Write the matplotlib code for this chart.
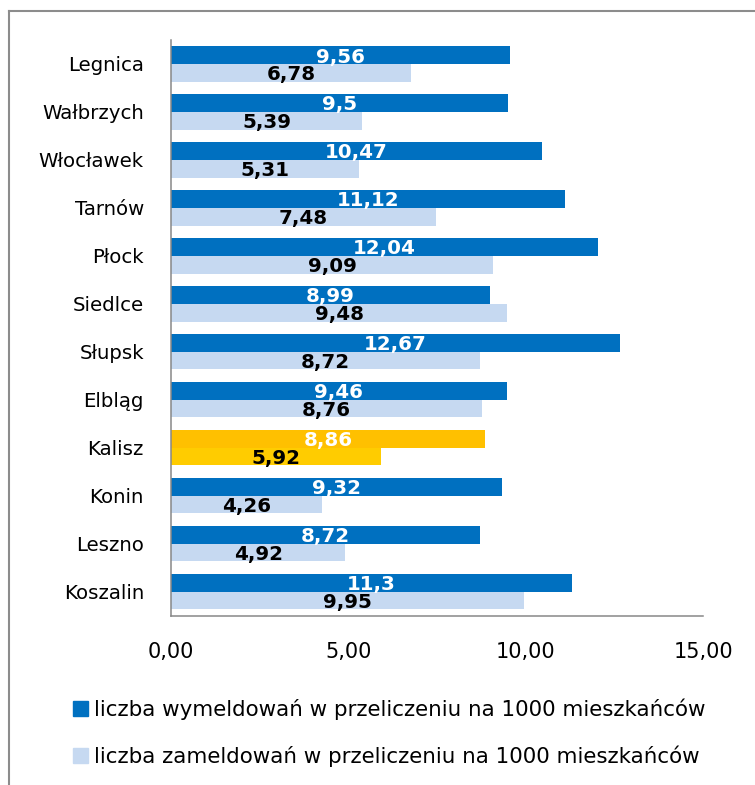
import matplotlib
matplotlib.use('Agg')
import matplotlib.pyplot as plt
from matplotlib.lines import Line2D
import numpy as np

cities = ['Legnica', 'Wałbrzych', 'Włocławek', 'Tarnów', 'Płock', 'Siedlce',
          'Słupsk', 'Elbląg', 'Kalisz', 'Konin', 'Leszno', 'Koszalin']
wymeldowania = [9.56, 9.5, 10.47, 11.12, 12.04, 8.99, 12.67, 9.46, 8.86, 9.32, 8.72, 11.3]
zameldowania = [6.78, 5.39, 5.31, 7.48, 9.09, 9.48, 8.72, 8.76, 5.92, 4.26, 4.92, 9.95]
highlight = 'Kalisz'
x_ticks = [0, 5, 10, 15]
legend_labels = ['liczba wymeldowań w przeliczeniu na 1000 mieszkańców',
                 'liczba zameldowań w przeliczeniu na 1000 mieszkańców']

DARK = '#0070C0'
LIGHT = '#C6D9F1'
HL_DARK = '#FFC000'
HL_LIGHT = '#FFCC00'
GREY = '#878787'


def fmt(v):
    return ('%g' % v).replace('.', ',')


fig = plt.figure(figsize=(7.55, 7.85), dpi=100)
ax = fig.add_axes([171 / 755, 1 - 615.5 / 785, 532 / 755, 575.5 / 785])

y = np.arange(len(cities))
h = 0.37
dark_colors = [HL_DARK if c == highlight else DARK for c in cities]
light_colors = [HL_LIGHT if c == highlight else LIGHT for c in cities]

bars1 = ax.barh(y - h / 2, wymeldowania, height=h, color=dark_colors,
                label=legend_labels[0])
bars2 = ax.barh(y + h / 2, zameldowania, height=h, color=light_colors,
                label=legend_labels[1])

for i in range(len(cities)):
    ax.text(wymeldowania[i] / 2, y[i] - h / 2 + 0.04, fmt(wymeldowania[i]),
            ha='center', va='center', color='white', fontsize=14.3,
            fontweight='bold')
    ax.text(zameldowania[i] / 2, y[i] + h / 2 + 0.04, fmt(zameldowania[i]),
            ha='center', va='center', color='black', fontsize=14.3,
            fontweight='bold')

ax.set_xlim(0, 15)
ax.set_ylim(len(cities) - 0.5, -0.5)
ax.set_yticks(y)
ax.set_yticklabels(cities, fontsize=14.2)
ax.set_xticks(x_ticks)
ax.set_xticklabels(['%d,00' % t for t in x_ticks], fontsize=15)
ax.tick_params(axis='y', length=0, pad=19.5)
ax.tick_params(axis='x', length=0, pad=19)

for s in ['top', 'right']:
    ax.spines[s].set_visible(False)
for s in ['left', 'bottom']:
    ax.spines[s].set_color(GREY)
    ax.spines[s].set_linewidth(1.1)

# legend below the axis
handles = [plt.Rectangle((0, 0), 1, 1, color=DARK),
           plt.Rectangle((0, 0), 1, 1, color=LIGHT)]
fig.legend(handles, legend_labels, loc='upper left',
           bbox_to_anchor=(73 / 755, 1 - 698 / 785), frameon=False,
           fontsize=15.4, handlelength=0.7, handleheight=0.7,
           handletextpad=0.28, labelspacing=1.22, borderpad=0,
           borderaxespad=0)

# chart frame (only top and left are visible in the crop)
fig.add_artist(Line2D([8.5 / 755, 1], [1 - 11 / 785, 1 - 11 / 785],
                      transform=fig.transFigure, color='#8C8C8C', lw=1.5))
fig.add_artist(Line2D([8.5 / 755, 8.5 / 755], [0, 1 - 11 / 785],
                      transform=fig.transFigure, color='#8C8C8C', lw=1.5))

fig.savefig('out.png', dpi=100)
